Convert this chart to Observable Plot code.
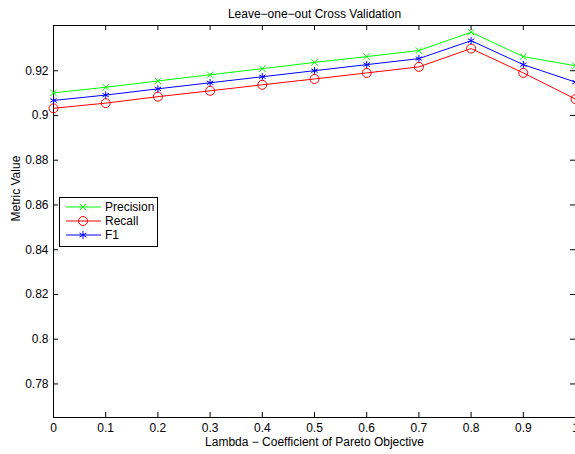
<!DOCTYPE html>
<html><head><meta charset="utf-8">
<script src="https://cdn.jsdelivr.net/npm/d3@7"></script>
<script src="https://cdn.jsdelivr.net/npm/@observablehq/plot@0.6"></script>
<style>
body{margin:0;background:#fff;}
#wrap{position:relative;width:575px;height:454px;overflow:hidden;font-family:"Liberation Sans",Arial,Helvetica,sans-serif;}
#legend{position:absolute;left:59px;top:197px;}
</style></head>
<body><div id="wrap"></div>
<script>
const lambda = [0, 0.1, 0.2, 0.3, 0.4, 0.5, 0.6, 0.7, 0.8, 0.9, 1.0];
const precision = [0.9101, 0.9126, 0.9154, 0.9182, 0.9209, 0.9237, 0.9263, 0.9290, 0.9372, 0.9263, 0.9222];
const recall    = [0.9032, 0.9055, 0.9084, 0.9110, 0.9137, 0.9163, 0.9190, 0.9217, 0.9299, 0.9190, 0.9073];
const f1        = [0.9067, 0.9091, 0.9119, 0.9146, 0.9173, 0.9200, 0.9227, 0.9254, 0.9334, 0.9227, 0.9149];
const seriesNames = ["Precision", "Recall", "F1"];
const seriesColors = ["#00ff00", "#ff0000", "#0000ff"];
const xTicks = [0, 0.1, 0.2, 0.3, 0.4, 0.5, 0.6, 0.7, 0.8, 0.9, 1];
const yTicks = [0.78, 0.8, 0.82, 0.84, 0.86, 0.88, 0.9, 0.92];
const titleText = "Leave\u2212one\u2212out Cross Validation";
const xLabel = "Lambda \u2212 Coefficient of Pareto Objective";
const yLabel = "Metric Value";

const values = [precision, recall, f1];
const data = seriesNames.flatMap((name, s) => lambda.map((x, i) => ({x, y: values[s][i], name})));
const W = 575, H = 454, mL = 53, mR = 0, mT = 25, mB = 37;
const innerH = H - mT - mB, innerW = W - mL - mR;
const fmt = d3.format("~g");
const font = '"Liberation Sans",Arial,Helvetica,sans-serif';

const chart = Plot.plot({
  width: W, height: H,
  marginLeft: mL, marginRight: mR, marginTop: mT, marginBottom: mB,
  style: {fontFamily: font, fontSize: "12px", background: "white", color: "black", overflow: "hidden"},
  x: {domain: [0, 1]},
  y: {domain: [0.765, 0.9402]},
  color: {domain: seriesNames, range: seriesColors},
  marks: [
    Plot.frame({stroke: "#000", strokeWidth: 1}),
    Plot.ruleX(xTicks, {x: d => d, insetTop: innerH - 5, stroke: "#000"}),
    Plot.ruleX(xTicks, {x: d => d, insetBottom: innerH - 5, stroke: "#000"}),
    Plot.ruleY(yTicks, {y: d => d, insetRight: innerW - 5, stroke: "#000"}),
    Plot.ruleY(yTicks, {y: d => d, insetLeft: innerW - 5, stroke: "#000"}),
    Plot.axisX(xTicks, {tickSize: 0, tickPadding: 6, tickFormat: fmt, label: null}),
    Plot.axisY(yTicks, {tickSize: 0, tickPadding: 5, tickFormat: fmt, label: null}),
    Plot.line(data, {x: "x", y: "y", z: "name", stroke: "name", strokeWidth: 1}),
    Plot.dot(data.filter(d => d.name === "Precision"), {x: "x", y: "y", stroke: "name", symbol: () => "times", r: 3, strokeWidth: 1}),
    Plot.dot(data.filter(d => d.name === "Recall"), {x: "x", y: "y", stroke: "name", fill: "none", r: 4.5, strokeWidth: 1}),
    Plot.dot(data.filter(d => d.name === "F1"), {x: "x", y: "y", stroke: "name", symbol: () => "asterisk", r: 3.5, strokeWidth: 1}),
    Plot.text([titleText], {text: d => d, frameAnchor: "top", dy: -16, fontSize: 12}),
    Plot.text([xLabel], {text: d => d, frameAnchor: "bottom", dy: 28, fontSize: 12}),
    Plot.text([yLabel], {text: d => d, frameAnchor: "left", rotate: -90, dx: -37, fontSize: 12})
  ]
});
const wrap = document.getElementById("wrap");
wrap.appendChild(chart);

// legend
const lw = 99, lh = 50;
const leg = d3.select(wrap).append("svg").attr("id", "legend").attr("width", lw).attr("height", lh)
  .style("font-family", font).style("font-size", "12px");
leg.append("rect").attr("x", 0.5).attr("y", 0.5).attr("width", lw - 1).attr("height", lh - 1)
  .attr("fill", "white").attr("stroke", "black");
const symbols = [d3.symbolTimes, null, d3.symbolAsterisk];
const symSizes = [30, 0, 45];
seriesNames.forEach((name, i) => {
  const cy = 10 + i * 14;
  const g = leg.append("g");
  g.append("line").attr("x1", 7).attr("x2", 42).attr("y1", cy).attr("y2", cy).attr("stroke", seriesColors[i]);
  if (symbols[i]) {
    g.append("path").attr("d", d3.symbol(symbols[i], symSizes[i])()).attr("transform", `translate(24,${cy})`)
      .attr("stroke", seriesColors[i]).attr("fill", "none");
  } else {
    g.append("circle").attr("cx", 24).attr("cy", cy).attr("r", 4.5).attr("stroke", seriesColors[i]).attr("fill", "none");
  }
  g.append("text").attr("x", 46).attr("y", cy).attr("dy", "0.35em").text(name);
});
</script>
</body></html>
